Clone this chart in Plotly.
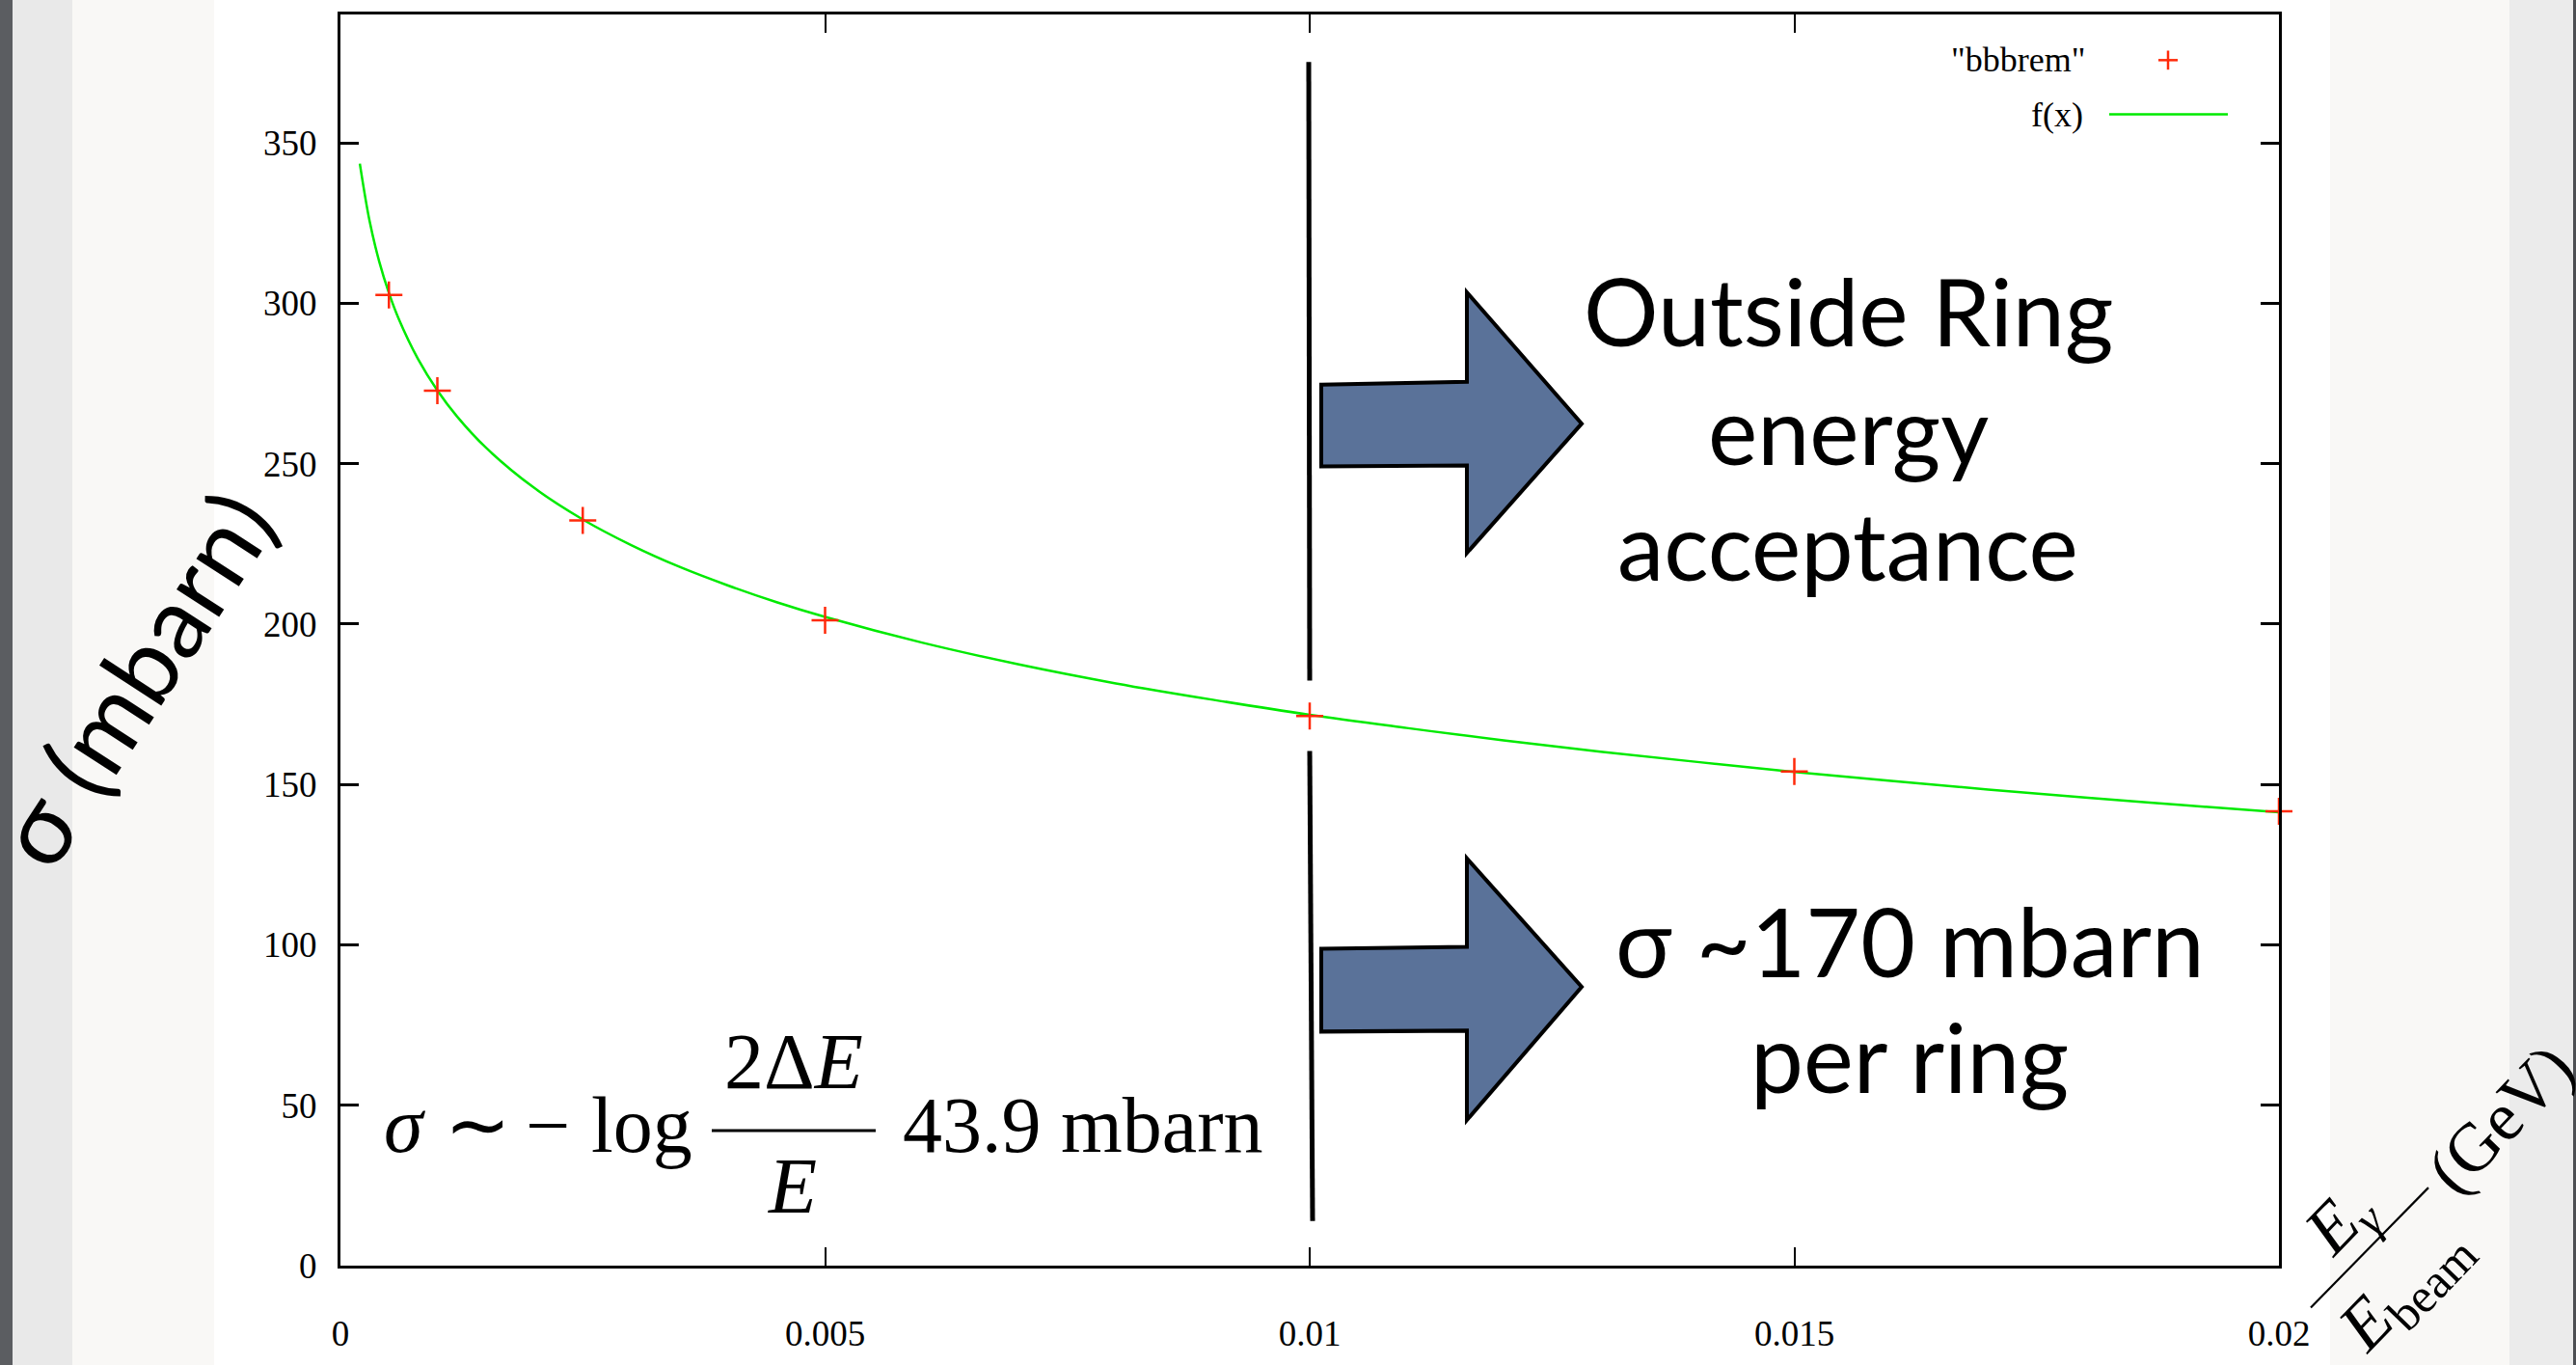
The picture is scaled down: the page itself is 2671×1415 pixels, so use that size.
import plotly.graph_objects as go

# bbbrem cross-section points (sigma in mbarn vs E_gamma/E_beam)
x_bbbrem = [0.0005, 0.001, 0.0025, 0.005, 0.01, 0.015, 0.02]
sigma_bbbrem = [302.6, 272.7, 232.3, 201.2, 171.3, 154.0, 141.6]

# f(x) curve as sampled on the plot
x_fx = [0.0002, 0.0003, 0.0004, 0.0005, 0.0006, 0.0008, 0.001, 0.0012, 0.0015,
        0.002, 0.0025, 0.003, 0.0035, 0.004, 0.0045, 0.005, 0.006, 0.007, 0.008,
        0.009, 0.01, 0.011, 0.012, 0.013, 0.014, 0.015, 0.016, 0.017, 0.018,
        0.019, 0.02]
sigma_fx = [343.5, 325.7, 313.0, 303.2, 295.2, 282.6, 272.8, 264.8, 255.0,
            242.4, 232.6, 224.6, 217.8, 212.0, 206.8, 202.2, 194.2, 187.4, 181.5,
            176.4, 171.7, 167.6, 163.7, 160.2, 157.0, 153.9, 151.1, 148.4, 145.9,
            143.6, 141.3]

x_ticks = [0, 0.005, 0.01, 0.015, 0.02]
x_tick_text = ["0", "0.005", "0.01", "0.015", "0.02"]
y_ticks = [0, 50, 100, 150, 200, 250, 300, 350]

W, H = 2671, 1415
L, R, T, B = 353, 2363, 15, 1330  # plot area edges in pixels

SERIF = "Liberation Serif, Times New Roman, serif"
SANS = "Lato, Open Sans, sans-serif"


def px(x):
    return (x - L) / (R - L)


def py(y):
    return (B - y) / (B - T)


def label(text, x, y, size, family, xanchor="center", yanchor="middle", angle=0, color="black"):
    return dict(text=text, x=px(x), y=py(y), xref="paper", yref="paper",
                showarrow=False, xanchor=xanchor, yanchor=yanchor, textangle=angle,
                font=dict(family=family, size=size, color=color), borderpad=0)


def band(x0, x1, color):
    return dict(type="rect", xref="paper", yref="paper", x0=px(x0), x1=px(x1),
                y0=py(H + 20), y1=py(-20), fillcolor=color, line=dict(width=0), layer="below")


def seg(x0, y0, x1, y1, color="black", width=5):
    return dict(type="line", xref="paper", yref="paper", x0=px(x0), y0=py(y0),
                x1=px(x1), y1=py(y1), line=dict(color=color, width=width))


def block_arrow(points):
    d = "M " + " L ".join(f"{px(x):.5f},{py(y):.5f}" for x, y in points) + " Z"
    return dict(type="path", xref="paper", yref="paper", path=d,
                fillcolor="#5a7299", line=dict(color="black", width=4))


fig = go.Figure()

fig.add_trace(go.Scatter(
    x=x_fx, y=sigma_fx, mode="lines", name="f(x)",
    line=dict(color="#00ea00", width=2.5, shape="spline"),
    showlegend=False,
))
fig.add_trace(go.Scatter(
    x=x_bbbrem, y=sigma_bbbrem, mode="markers", name='"bbbrem"',
    marker=dict(symbol="cross-thin", size=20, color="#ff2a0a",
                line=dict(color="#ff2a0a", width=2.5)),
    cliponaxis=False, showlegend=False,
))

axis_common = dict(
    showline=True, linecolor="black", linewidth=3, mirror="ticks",
    ticks="inside", ticklen=19, tickcolor="black",
    showgrid=False, zeroline=False,
    tickfont=dict(family=SERIF, size=37, color="black"),
)

fig.update_xaxes(range=[0, 0.02], tickvals=x_ticks, ticktext=x_tick_text,
                 tickwidth=2, ticklabelstandoff=36, **axis_common)
fig.update_yaxes(range=[0, 390], tickvals=y_ticks, tickwidth=3,
                 ticklabelstandoff=14, **axis_common)

shapes = [
    # slide background strips
    band(-20, 13, "#5b5d61"),
    band(13, 75, "#e9e9e9"),
    band(222, 2416, "#ffffff"),
    band(2602, 2668, "#ebebeb"),
    band(2668, W + 20, "#4d4f53"),
    # divider at the ring acceptance
    seg(1357, 65, 1358, 715),
    seg(1358, 789, 1361, 1283),
    # block arrows
    block_arrow([(1370, 404), (1521, 401), (1521, 307), (1640, 445),
                 (1521, 581), (1521, 489), (1370, 490)]),
    block_arrow([(1370, 997), (1521, 995), (1521, 902), (1640, 1037),
                 (1521, 1177), (1521, 1083), (1370, 1084)]),
    # legend samples
    seg(2238, 63, 2258, 63, "#ff2a0a", 2.5),
    seg(2248, 53, 2248, 73, "#ff2a0a", 2.5),
    seg(2187, 120, 2310, 120, "#00ea00", 2.5),
    # formula fraction bar
    seg(738, 1188, 908, 1188, "black", 3),
    # x-axis title fraction bar
    seg(2396, 1374, 2518, 1248, "black", 2.2),
]

F = 82
annotations = [
    # legend
    label('"bbbrem"', 2163, 63, 36, SERIF, xanchor="right"),
    label("f(x)", 2161, 120, 36, SERIF, xanchor="right"),
    # axis titles
    label("σ (mbarn)", 138, 712, 104, SANS, angle=-57),
    label("<i>E</i><sub><i>γ</i></sub>", 2428, 1285, 72, SERIF, angle=-46),
    label("<i>E</i><sub>beam</sub>", 2494, 1354, 72, SERIF, angle=-46),
    label("(GeV)", 2592, 1176, 71, SERIF, angle=-46),
    # formula
    label("<i>σ</i>", 420, 1182, F, SERIF),
    label("∼", 495, 1182, F, SERIF),
    label("−", 568, 1182, F, SERIF),
    label("log", 665, 1182, F, SERIF),
    label("2Δ<i>E</i>", 823, 1116, F, SERIF),
    label("<i>E</i>", 821, 1246, F, SERIF),
    label("43.9 mbarn", 935, 1182, F, SERIF, xanchor="left"),
    # slide call-outs
    label("Outside Ring", 1916, 326, 97, SANS),
    label("energy", 1916, 450, 97, SANS),
    label("acceptance", 1916, 572, 97, SANS),
    label("σ ~170 mbarn", 1980, 988, 98, SANS),
    label("per ring", 1980, 1110, 98, SANS),
]

fig.update_layout(
    width=W, height=H,
    margin=dict(l=L, r=W - R, t=T, b=H - B, pad=0),
    paper_bgcolor="#f9f8f6",
    plot_bgcolor="rgba(0,0,0,0)",
    shapes=shapes,
    annotations=annotations,
    showlegend=False,
)

fig.write_html("out.html")
